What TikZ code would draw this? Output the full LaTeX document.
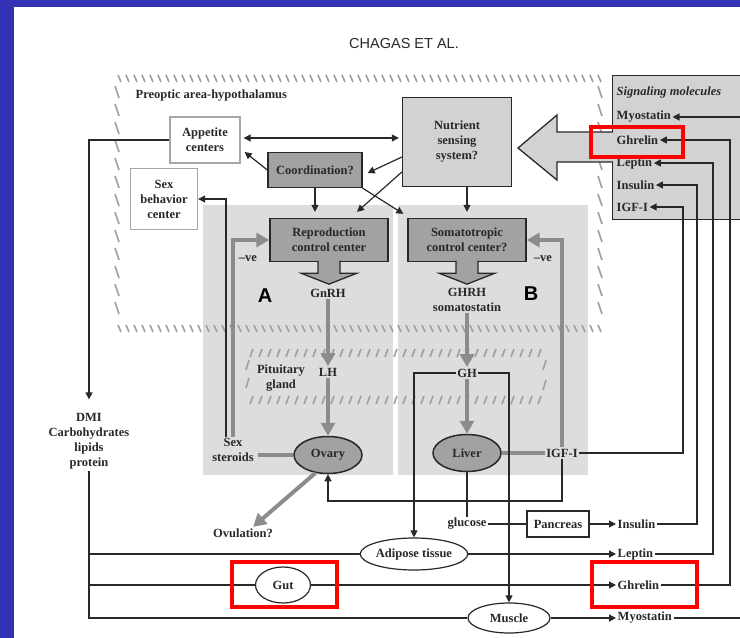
\documentclass[tikz,border=0pt]{standalone}
\usepackage{fontspec}
\setmainfont{Liberation Serif}
\setsansfont{Liberation Sans}
\usetikzlibrary{arrows.meta, shapes.geometric, calc}
\definecolor{slideBlue}{RGB}{52,50,180}
\definecolor{boxDark}{RGB}{162,162,162}
\definecolor{boxLight}{RGB}{210,210,210}
\definecolor{panelGray}{RGB}{221,221,221}
\definecolor{arrowGray}{RGB}{140,140,140}
\definecolor{hatchGray}{RGB}{160,160,160}
\definecolor{inkGray}{RGB}{40,40,40}
\newcommand{\lblfont}{\fontsize{12.5}{15}\selectfont\bfseries}

\tikzset{
  lbl/.style={font=\lblfont, text=inkGray, align=center, inner sep=1.5pt},
  darkbox/.style={lbl, draw=inkGray, fill=boxDark, line width=1.3pt},
  lightbox/.style={lbl, draw=inkGray, fill=boxLight, line width=1.3pt},
  whitebox/.style={lbl, draw=gray!70, fill=white, line width=1.3pt},
  organ/.style={lbl, ellipse, draw=inkGray, fill=boxDark, line width=1.5pt, inner sep=0pt},
  tissue/.style={lbl, ellipse, draw=inkGray, fill=white, line width=1.2pt, inner sep=0pt},
  link/.style={draw=inkGray, line width=1.2pt},
  blk/.style={link, -{Triangle[length=7pt,width=7pt]}},
  glink/.style={draw=arrowGray, line width=4pt},
  garr/.style={glink, -{Triangle[length=13pt,width=14pt]}},
  hatch/.style={draw=hatchGray, line width=1.6pt},
  blockarr/.style={draw=inkGray, fill=boxDark, line width=1.3pt},
  redmark/.style={draw=red, line width=4pt}
}

\begin{document}
\begin{tikzpicture}[x=1pt, y=-1pt, line join=miter]
  \useasboundingbox (0,0) rectangle (740,638);
  \clip (0,0) rectangle (740,638);
  % slide frame
  \fill[slideBlue] (0,0) rectangle (14,638);
  \fill[slideBlue] (0,0) rectangle (740,7);

  \node[font=\sffamily\fontsize{14.5}{16}\selectfont, text=inkGray] (title) at (404,44) {CHAGAS ET AL.};

  % grey panels A and B
  \fill[panelGray] (203,205) rectangle (393,475);
  \fill[panelGray] (398,205) rectangle (588,475);

  % hatched outline, preoptic area
  \foreach \x in {118,126,...,598} {
    \draw[hatch] (\x,75) -- ++(3,7);
    \draw[hatch] (\x,325) -- ++(3,7);
  }
  \foreach \y in {86,104,...,316} {
    \draw[hatch] (115,\y) -- ++(4,12);
    \draw[hatch] (598,\y) -- ++(4,12);
  }
  % hatched outline, pituitary
  \foreach \x in {250,259,...,538} {
    \draw[hatch] (\x+3,349) -- ++(-3,8);
    \draw[hatch] (\x+3,396) -- ++(-3,8);
  }
  \foreach \y in {360,378} \draw[hatch] (249,\y) -- ++(-3,10);
  \foreach \y in {360,380} \draw[hatch] (546,\y) -- ++(-3,10);

  % hypothalamus
  \node[lbl, anchor=west] (poa) at (134,96) {Preoptic area-hypothalamus};
  \node[whitebox, minimum width=70, minimum height=46] (app) at (205,140) {Appetite\\centers};
  \node[whitebox, minimum width=67, minimum height=61] (sexbeh) at (164,199) {Sex\\behavior\\center};
  \node[lightbox, minimum width=109, minimum height=89] (nutri) at (457,142) {Nutrient\\sensing\\system?};
  \node[darkbox, minimum width=94, minimum height=35] (coord) at (315,170) {Coordination?};
  \node[darkbox, minimum width=118, minimum height=43] (repro) at (329,240) {Reproduction\\control center};
  \node[darkbox, minimum width=118, minimum height=43] (somato) at (467,240) {Somatotropic\\control center?};

  % signaling molecules
  \node[lightbox, anchor=north west, minimum width=140, minimum height=144] (sigbox) at (612,75) {};
  \node[lbl, anchor=west, font=\lblfont\itshape] (sigtitle) at (615,92) {Signaling molecules};
  \node[lbl, anchor=west] (sMyo) at (615,117) {Myostatin};
  \node[lbl, anchor=west] (sGhr) at (615,140) {Ghrelin};
  \node[lbl, anchor=west] (sLep) at (615,163) {Leptin};
  \node[lbl, anchor=west] (sIns) at (615,185) {Insulin};
  \node[lbl, anchor=west] (sIgf) at (615,207) {IGF-I};
  \filldraw[blockarr, fill=boxLight] (613,132) -- (557,132) -- (557,115) -- (518,148)
    -- (557,180) -- (557,162) -- (613,162);

  % block arrows out of the centers
  \filldraw[blockarr] ($(repro.south)+(-11,-1.5)$) -- ++(0,12.5) -- ++(-17,0) -- ++(28,11)
    -- ++(28,-11) -- ++(-17,0) -- ++(0,-12.5);
  \filldraw[blockarr] ($(somato.south)+(-11,-1.5)$) -- ++(0,12.5) -- ++(-17,0) -- ++(28,11)
    -- ++(28,-11) -- ++(-17,0) -- ++(0,-12.5);

  % panel labels
  \node[lbl] (gnrh) at (328,293) {GnRH};
  \node[font=\sffamily\bfseries\fontsize{20}{20}\selectfont, text=black] (labA) at (265,296) {A};
  \node[lbl] (veA) at (248,259) {--ve};
  \node[lbl] (ghrh) at (467,300) {GHRH\\somatostatin};
  \node[font=\sffamily\bfseries\fontsize{20}{20}\selectfont, text=black] (labB) at (531,294) {B};
  \node[lbl] (veB) at (543,259) {--ve};
  \node[lbl] (pit) at (281,378) {Pituitary\\gland};
  \node[lbl] (lh) at (328,372) {LH};
  \node[lbl] (gh) at (467,373) {GH};
  \node[organ, minimum width=68, minimum height=37] (ovary) at (328,455) {Ovary};
  \node[lbl] (steroids) at (233,450) {Sex\\steroids};
  \node[organ, minimum width=68, minimum height=37] (liver) at (467,453) {Liver};
  \node[lbl] (igf) at (562,453) {IGF-I};
  \node[lbl] (ovul) at (243,533) {Ovulation?};

  % periphery
  \node[lbl] (dmi) at (89,441) {DMI\\Carbohydrates\\lipids\\protein};
  \node[lbl] (glucose) at (467,524) {glucose};
  \node[whitebox, draw=inkGray, minimum width=62, minimum height=26] (pancreas) at (558,524) {Pancreas};
  \node[lbl, anchor=west] (insulin) at (616,524) {Insulin};
  \node[tissue, minimum width=104, minimum height=32] (adipose) at (414,554) {Adipose tissue};
  \node[lbl, anchor=west] (leptin) at (616,554) {Leptin};
  \node[tissue, minimum width=55, minimum height=36] (gut) at (283,585) {Gut};
  \node[lbl, anchor=west] (ghrelin) at (616,585) {Ghrelin};
  \node[tissue, minimum width=82, minimum height=30] (muscle) at (509,618) {Muscle};
  \node[lbl, anchor=west] (myost) at (616,618) {Myostatin};

  \coordinate (rGhr) at (730,140);
  \coordinate (rLep) at (713,163);
  \coordinate (rIns) at (697,185);
  \coordinate (rIgf) at (683,207);
  \coordinate (rMyo) at (760,117);
  \coordinate (jOvary) at (328,501);

  % hypothalamic connectors
  \draw[link, {Triangle[length=7pt,width=7pt]}-{Triangle[length=7pt,width=7pt]}, shorten <=3pt, shorten >=3pt]
    ([yshift=2pt]app.east) -- ([yshift=2pt]app.east -| nutri.west);
  \draw[blk] (coord.west) -- ([xshift=4pt,yshift=-12pt]app.east);
  \draw[blk] ([yshift=-15pt]nutri.west) -- ([xshift=5pt,yshift=-3pt]coord.east);
  \draw[blk] ([yshift=-30pt]nutri.west) -- ([xshift=28pt,yshift=6pt]repro.north);
  \draw[blk] (coord.south east) -- ([xshift=-4pt,yshift=4pt]somato.north west);
  \draw[blk] (coord.south) -- ([yshift=6pt]coord.south |- repro.north);
  \draw[blk] (somato.north |- nutri.south) -- ([yshift=6pt]somato.north);
  \draw[blk] (app.west) -| ([yshift=12pt]dmi.north);

  % axis A
  \draw[blk] ([xshift=-7pt]steroids.north) |- (sexbeh.east);
  \draw[garr] (steroids.north) |- (repro.west);
  \draw[glink] ([xshift=3pt]steroids.east |- ovary.west) -- (ovary.west);
  \draw[garr] (gnrh.south) -- (lh.north);
  \draw[garr] (lh.south) -- (ovary.north);
  \draw[garr] (ovary.-125) -- ([xshift=10pt]ovul.north);

  % axis B
  \draw[garr] (ghrh.south) -- (gh.north);
  \draw[garr] (gh.south) -- (liver.north);
  \draw[glink] (liver.east) -- (igf.west);
  \draw[garr] (igf.north) |- (somato.east);
  \draw[blk] (igf.south) |- (jOvary) -- (ovary.south);
  \draw[blk] (igf.east) -| (rIgf) -- (sIgf.east);
  \draw[blk] (gh.west) -| (adipose.north);
  \draw[blk] (gh.east) -| (muscle.north);

  % peripheral signals
  \draw[link] (liver.south) -- (glucose.north);
  \draw[link] (glucose.east) -- (pancreas.west);
  \draw[blk] (pancreas.east) -- (insulin.west);
  \draw[blk] (insulin.east) -| (rIns) -- (sIns.east);
  \draw[link] (dmi.south |- adipose.west) -- (adipose.west);
  \draw[blk] (adipose.east) -- (leptin.west);
  \draw[blk] (leptin.east) -| (rLep) -- (sLep.east);
  \draw[link] (dmi.south |- gut.west) -- (gut.west);
  \draw[blk] (gut.east) -- (ghrelin.west);
  \draw[blk] (ghrelin.east) -| (rGhr) -- (sGhr.east);
  \draw[link] (dmi.south) |- (muscle.west);
  \draw[blk] (muscle.east) -- (myost.west);
  \draw[blk] (myost.east) -| (rMyo) -- (sMyo.east);

  % highlights
  \draw[redmark] (591,127) rectangle (683,157);
  \draw[redmark] (232,562) rectangle (337,607);
  \draw[redmark] (592,562) rectangle (697,607);
\end{tikzpicture}
\end{document}
